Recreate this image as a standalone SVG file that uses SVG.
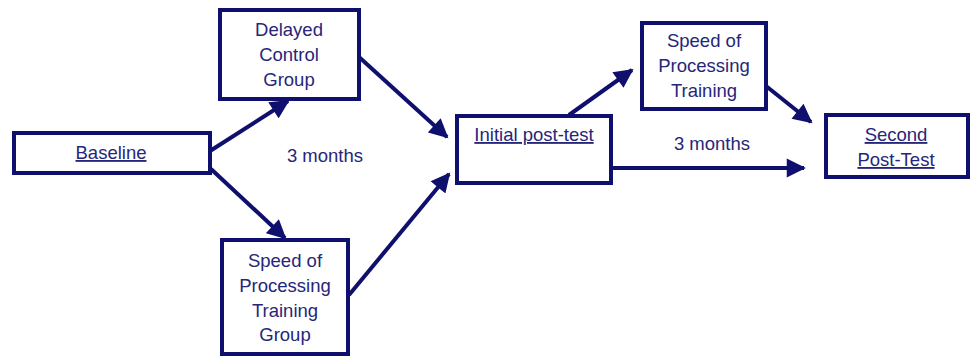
<svg xmlns="http://www.w3.org/2000/svg" width="971" height="358" viewBox="0 0 971 358">
<style>
.box{fill:#fff;stroke:#0f0f6e;stroke-width:4}
.t{font-family:"Liberation Sans",Arial,sans-serif;font-size:18.5px;fill:#26267a;text-anchor:middle}
.u{text-decoration:underline}
.c{stroke:#0f0f6e;stroke-width:4;fill:none;marker-end:url(#ah)}
</style>
<defs>
<marker id="ah" viewBox="0 0 10 10" refX="9" refY="5" markerWidth="5" markerHeight="4.8" markerUnits="strokeWidth" orient="auto">
<path d="M0,0 L10,5 L0,10 Z" fill="#0f0f6e"/>
</marker>
</defs>
<rect width="971" height="358" fill="#fff"/>
<g id="connectors">
<line class="c" x1="210" y1="151" x2="288" y2="101"/>
<line class="c" x1="211" y1="169" x2="285" y2="238"/>
<line class="c" x1="359" y1="57" x2="447" y2="137"/>
<line class="c" x1="349" y1="295" x2="449" y2="174"/>
<line class="c" x1="569" y1="115" x2="632" y2="70"/>
<line class="c" x1="766" y1="86" x2="811" y2="122"/>
<line class="c" x1="611" y1="168" x2="804" y2="168"/>
</g>
<g id="baseline">
<rect class="box" x="14" y="133" width="196" height="40"/>
<text class="t u" x="111" y="159">Baseline</text>
</g>
<g id="delayed">
<rect class="box" x="220" y="10" width="139" height="89"/>
<text class="t" x="289" y="36">Delayed</text>
<text class="t" x="289" y="61">Control</text>
<text class="t" x="289" y="86">Group</text>
</g>
<g id="sop-group">
<rect class="box" x="222" y="240" width="126" height="114"/>
<text class="t" x="285" y="267">Speed of</text>
<text class="t" x="285" y="292">Processing</text>
<text class="t" x="285" y="317">Training</text>
<text class="t" x="285" y="341">Group</text>
</g>
<g id="label-left">
<text class="t" x="325" y="162">3 months</text>
</g>
<g id="initial">
<rect class="box" x="457" y="116" width="154" height="67"/>
<text class="t u" x="534" y="141">Initial post-test</text>
</g>
<g id="sop-training">
<rect class="box" x="642" y="23" width="124" height="86"/>
<text class="t" x="704" y="47">Speed of</text>
<text class="t" x="704" y="72">Processing</text>
<text class="t" x="704" y="97">Training</text>
</g>
<g id="label-right">
<text class="t" x="712" y="150">3 months</text>
</g>
<g id="second">
<rect class="box" x="826" y="115" width="142" height="62"/>
<text class="t u" x="896" y="141">Second</text>
<text class="t u" x="896" y="166">Post-Test</text>
</g>
</svg>
